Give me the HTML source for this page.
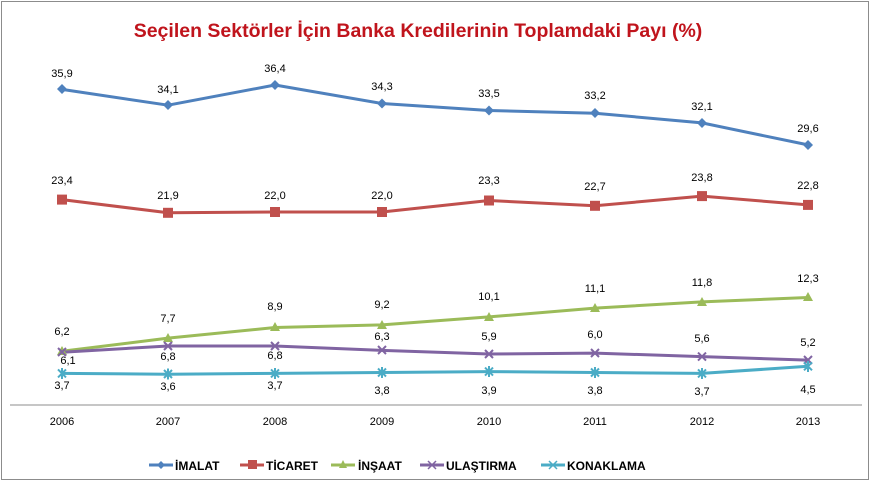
<!DOCTYPE html>
<html><head><meta charset="utf-8"><style>
body{margin:0;background:#fff;}
svg{display:block;font-family:"Liberation Sans",sans-serif;}
</style></head><body>
<svg width="871" height="488" viewBox="0 0 871 488">
<rect x="1.5" y="1.5" width="867" height="478" fill="#fff" stroke="#8c8c8c" stroke-width="1"/>
<text x="418" y="37" text-anchor="middle" font-size="19.5" font-weight="bold" fill="#c0141c">Seçilen Sektörler İçin Banka Kredilerinin Toplamdaki Payı (%)</text>
<line x1="10" y1="405" x2="862" y2="405" stroke="#8c8c8c" stroke-width="1"/>
<g font-size="11" fill="#000" text-anchor="middle">
<text x="62" y="425">2006</text><text x="168" y="425">2007</text><text x="275" y="425">2008</text><text x="382" y="425">2009</text><text x="489" y="425">2010</text><text x="595" y="425">2011</text><text x="702" y="425">2012</text><text x="808" y="425">2013</text>
</g>
<g fill="none" stroke-width="3" stroke-linejoin="round">
<polyline stroke="#4f81bd" points="62,89.4 168,105.2 275,85 382,103.5 489,110.5 595,113.2 702,122.9 808,144.9"/>
<polyline stroke="#c0504d" points="62,199.6 168,212.8 275,212 382,212 489,200.5 595,205.8 702,196.1 808,204.9"/>
<polyline stroke="#9bbb59" points="62,351.3 168,338.1 275,327.5 382,324.9 489,316.9 595,308.1 702,301.9 808,297.5"/>
<polyline stroke="#8064a2" points="62,352.2 168,346 275,346 382,350.4 489,354 595,353.1 702,356.6 808,360.1"/>
<polyline stroke="#4bacc6" points="62,373.4 168,374.2 275,373.4 382,372.5 489,371.6 595,372.5 702,373.4 808,366.3"/>
</g>
<g fill="#4f81bd">
<path d="M62,84l5,5l-5,5l-5,-5z"/><path d="M168,100l5,5l-5,5l-5,-5z"/><path d="M275,80l5,5l-5,5l-5,-5z"/><path d="M382,98.5l5,5l-5,5l-5,-5z"/><path d="M489,105.5l5,5l-5,5l-5,-5z"/><path d="M595,108l5,5l-5,5l-5,-5z"/><path d="M702,118l5,5l-5,5l-5,-5z"/><path d="M808,140l5,5l-5,5l-5,-5z"/>
</g>
<g fill="#c0504d">
<rect x="57" y="194.6" width="10" height="10"/><rect x="163" y="207.8" width="10" height="10"/><rect x="270" y="207" width="10" height="10"/><rect x="377" y="207" width="10" height="10"/><rect x="484" y="195.5" width="10" height="10"/><rect x="590" y="200.8" width="10" height="10"/><rect x="697" y="191.1" width="10" height="10"/><rect x="803" y="199.9" width="10" height="10"/>
</g>
<g fill="#9bbb59">
<path d="M62,346l5,9h-10z"/><path d="M168,333l5,9h-10z"/><path d="M275,322l5,9h-10z"/><path d="M382,320l5,9h-10z"/><path d="M489,312l5,9h-10z"/><path d="M595,303l5,9h-10z"/><path d="M702,297l5,9h-10z"/><path d="M808,292l5,9h-10z"/>
</g>
<g stroke="#8064a2" stroke-width="2">
<path d="M58,348l8,8M66,348l-8,8M164,342l8,8M172,342l-8,8M271,342l8,8M279,342l-8,8M378,346l8,8M386,346l-8,8M485,350l8,8M493,350l-8,8M591,349l8,8M599,349l-8,8M698,352.6l8,8M706,352.6l-8,8M804,356l8,8M812,356l-8,8"/>
</g>
<g stroke="#4bacc6" stroke-width="2">
<path d="M58,369.4l8,8M66,369.4l-8,8M62,368v11M164,370l8,8M172,370l-8,8M168,368.5v11M271,369.4l8,8M279,369.4l-8,8M275,368v11M378,368.5l8,8M386,368.5l-8,8M382,367v11M485,367.6l8,8M493,367.6l-8,8M489,366v11M591,368.5l8,8M599,368.5l-8,8M595,367v11M698,369.4l8,8M706,369.4l-8,8M702,368v11M804,362.3l8,8M812,362.3l-8,8M808,361v11"/>
</g>
<g font-size="11" fill="#000" text-anchor="middle">
<text x="62" y="77">35,9</text><text x="168" y="93">34,1</text><text x="275" y="72">36,4</text><text x="382" y="90">34,3</text><text x="489" y="97">33,5</text><text x="595" y="99">33,2</text><text x="702" y="110">32,1</text><text x="808" y="132">29,6</text>
<text x="62" y="184">23,4</text><text x="168" y="199">21,9</text><text x="275" y="199">22,0</text><text x="382" y="199">22,0</text><text x="489" y="184">23,3</text><text x="595" y="190">22,7</text><text x="702" y="181">23,8</text><text x="808" y="189">22,8</text>
<text x="62" y="335">6,2</text><text x="168" y="322">7,7</text><text x="275" y="310">8,9</text><text x="382" y="308">9,2</text><text x="489" y="300">10,1</text><text x="595" y="292">11,1</text><text x="702" y="286">11,8</text><text x="808" y="282">12,3</text>
<text x="68" y="364">6,1</text><text x="168" y="360">6,8</text><text x="275" y="359">6,8</text><text x="382" y="340">6,3</text><text x="489" y="340">5,9</text><text x="595" y="338">6,0</text><text x="702" y="342">5,6</text><text x="808" y="346">5,2</text>
<text x="62" y="389">3,7</text><text x="168" y="390">3,6</text><text x="275" y="389">3,7</text><text x="382" y="394">3,8</text><text x="489" y="394">3,9</text><text x="595" y="394">3,8</text><text x="702" y="395">3,7</text><text x="808" y="393">4,5</text>
</g>
<g font-size="12" font-weight="bold" fill="#000">
<line x1="149" y1="465" x2="173" y2="465" stroke="#4f81bd" stroke-width="3"/><path d="M161,461l4,4l-4,4l-4,-4z" fill="#4f81bd"/><text x="175" y="470">İMALAT</text>
<line x1="240" y1="465" x2="264" y2="465" stroke="#c0504d" stroke-width="3"/><rect x="248" y="460" width="9" height="9" fill="#c0504d"/><text x="266" y="470">TİCARET</text>
<line x1="331" y1="465" x2="355" y2="465" stroke="#9bbb59" stroke-width="3"/><path d="M343,460l4,8h-8z" fill="#9bbb59"/><text x="358" y="470">İNŞAAT</text>
<line x1="420" y1="465" x2="444" y2="465" stroke="#8064a2" stroke-width="3"/><path d="M428,461l8,8M436,461l-8,8" stroke="#8064a2" stroke-width="1.5"/><text x="446" y="470">ULAŞTIRMA</text>
<line x1="541" y1="465" x2="565" y2="465" stroke="#4bacc6" stroke-width="3"/><path d="M549,461l8,8M557,461l-8,8" stroke="#4bacc6" stroke-width="1.5"/><text x="567" y="470">KONAKLAMA</text>
</g>
</svg>
</body></html>
